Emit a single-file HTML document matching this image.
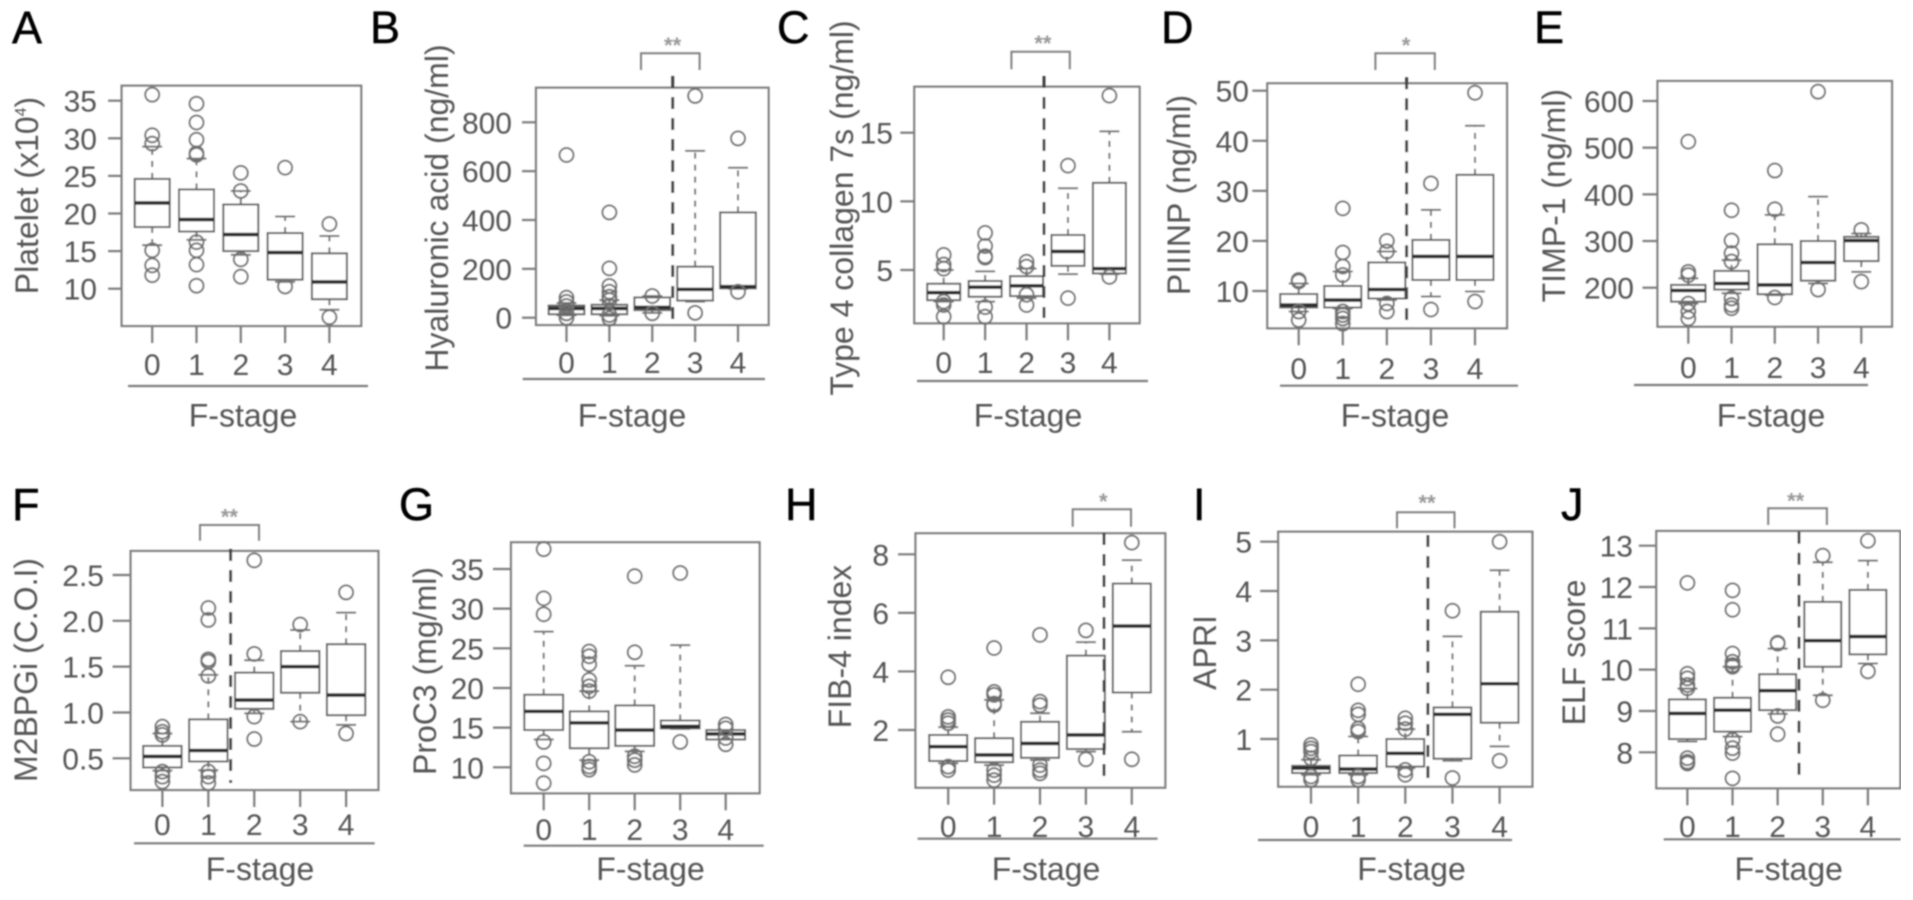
<!DOCTYPE html>
<html lang="en">
<head>
<meta charset="utf-8">
<title>Fibrosis markers by F-stage</title>
<style>
html,body{margin:0;padding:0;background:#fff;width:1913px;height:900px;overflow:hidden}
svg{display:block}
text{font-family:"Liberation Sans",Arial,sans-serif}
</style>
</head>
<body>
<svg id="figure" width="1913" height="900" viewBox="0 0 1913 900" xmlns="http://www.w3.org/2000/svg">
<defs><filter id="soft" x="0" y="0" width="100%" height="100%"><feGaussianBlur stdDeviation="0.8"/></filter></defs>
<g id="root" filter="url(#soft)"></g>
</svg>
<script>
const categories = ['0', '1', '2', '3', '4'];

// A: Platelet
const plateletQ1 = [18.2, 17.6, 15, 11.2, 8.6];
const plateletMedian = [21.4, 19.2, 17.2, 14.8, 10.9];
const plateletQ3 = [24.6, 23.2, 21.2, 17.4, 14.7];
const plateletLow = [15.8, 16.5, 14.5, 10.9, 7.2];
const plateletHigh = [28.9, 27.3, 23, 19.6, 17];
const plateletOutliers = [[35.8, 30.4, 29.3, 15.1, 13.1, 11.8], [34.6, 32.1, 29.8, 28, 27.8, 16.2, 15.1, 13.2, 10.4], [25.4, 23, 13.9, 11.6], [26.1, 10.3], [18.6, 6.2]];
const plateletTicks = ['10', '15', '20', '25', '30', '35'];

// B: Hyaluronic acid
const hyaluronicQ1 = [14, 14, 31, 70, 120];
const hyaluronicMedian = [38, 38, 42, 116, 127];
const hyaluronicQ3 = [50, 53, 83, 209, 431];
const hyaluronicLow = [10, 8, 20, 66, 118];
const hyaluronicHigh = [60, 72, 89, 683, 614];
const hyaluronicOutliers = [[666, 82, 65, 48, 18, 0], [431, 202, 130, 106, 86, 72, 11, -3], [89, 18], [908, 20], [734, 106]];
const hyaluronicTicks = ['0', '200', '400', '600', '800'];

// C: Type 4 collagen 7s
const collagenQ1 = [2.8, 3.05, 3.1, 5.3, 4.75];
const collagenMedian = [3.35, 3.75, 3.85, 6.35, 5.1];
const collagenQ3 = [4, 4.2, 4.55, 7.55, 11.35];
const collagenLow = [2.7, 2.7, 2.95, 4.7, 4.7];
const collagenHigh = [5, 4.9, 5.1, 10.95, 15.1];
const collagenOutliers = [[6.1, 5.4, 5.1, 2.7, 2.45, 1.6], [7.7, 6.75, 6, 5.9, 2.3, 1.6], [5.6, 5.25, 3.2, 2.45], [12.6, 2.95], [17.7, 4.5]];
const collagenTicks = ['5', '10', '15'];

// D: PIIINP
const piiinpQ1 = [6.7, 6.7, 8.5, 12.2, 12.2];
const piiinpMedian = [7.2, 8.2, 10.3, 16.9, 16.9];
const piiinpQ3 = [9.4, 11, 15.7, 20.2, 33.2];
const piiinpLow = [5.9, 6.5, 8.2, 8.9, 9.9];
const piiinpHigh = [11.5, 13.9, 17.9, 26.2, 43];
const piiinpOutliers = [[12.2, 11.9, 5.9, 4.2], [26.5, 17.7, 14.9, 13.2, 5.9, 5.2, 4.5, 3.5], [20, 17.9, 7.5, 5.9], [31.5, 6.3], [49.6, 7.9]];
const piiinpTicks = ['10', '20', '30', '40', '50'];

// E: TIMP-1
const timpQ1 = [170, 196, 186, 215, 257];
const timpMedian = [194, 209, 206, 254, 301];
const timpQ3 = [206, 236, 293, 300, 309];
const timpLow = [166, 188, 184, 209, 234];
const timpHigh = [220, 259, 356, 395, 316];
const timpOutliers = [[513, 234, 227, 166, 149, 134], [366, 301, 274, 256, 177, 163, 156], [451, 368, 179], [620, 196], [324, 213]];
const timpTicks = ['200', '300', '400', '500', '600'];

// F: M2BPGi
const m2bpgiQ1 = [0.4, 0.465, 1.04, 1.215, 0.97];
const m2bpgiMedian = [0.52, 0.585, 1.135, 1.5, 1.19];
const m2bpgiQ3 = [0.635, 0.925, 1.435, 1.67, 1.745];
const m2bpgiLow = [0.365, 0.37, 0.99, 0.9, 0.865];
const m2bpgiHigh = [0.77, 1.41, 1.57, 1.9, 2.09];
const m2bpgiOutliers = [[0.845, 0.79, 0.755, 0.355, 0.3, 0.245], [2.14, 2.01, 1.58, 1.555, 1.4, 0.355, 0.3, 0.23], [2.66, 1.64, 0.955, 0.71], [1.96, 0.9], [2.31, 0.77]];
const m2bpgiTicks = ['0.5', '1.0', '1.5', '2.0', '2.5'];

// G: ProC3
const proc3Q1 = [14.7, 12.4, 12.7, 14.9, 13.5];
const proc3Median = [17.05, 15.6, 14.7, 15.15, 14.2];
const proc3Q3 = [19.15, 17.05, 17.8, 15.9, 14.7];
const proc3Low = [13.5, 10.9, 12, 14.85, 13.5];
const proc3High = [27.1, 19.6, 22.8, 25.4, 14.7];
const proc3Outliers = [[37.5, 31.3, 29.3, 13.2, 10.5, 8], [24.6, 24, 23, 21, 20.2, 19.6, 10.7, 10.1, 9.7], [34.1, 24.5, 11.4, 10.9, 10.3], [34.5, 13.2], [15.4, 14.9, 13.7, 12.9]];
const proc3Ticks = ['10', '15', '20', '25', '30', '35'];

// H: FIB-4 index
const fib4Q1 = [0.94, 0.9, 1.05, 1.35, 3.28];
const fib4Median = [1.43, 1.15, 1.54, 1.83, 5.55];
const fib4Q3 = [1.83, 1.72, 2.28, 4.54, 7];
const fib4Low = [0.86, 0.8, 0.97, 1.26, 1.94];
const fib4High = [2.1, 3.03, 2.57, 5, 7.8];
const fib4Outliers = [[3.8, 2.45, 2.34, 2.23, 0.75, 0.63], [4.8, 3.3, 3.2, 2.9, 2.85, 0.63, 0.46, 0.29], [5.25, 2.97, 2.85, 0.8, 0.63, 0.52], [5.4, 1], [8.4, 1]];
const fib4Ticks = ['2', '4', '6', '8'];

// I: APRI
const apriQ1 = [0.31, 0.31, 0.44, 0.6, 1.33];
const apriMedian = [0.41, 0.39, 0.71, 1.5, 2.12];
const apriQ3 = [0.456, 0.665, 1, 1.64, 3.58];
const apriLow = [0.275, 0.275, 0.41, 0.56, 0.85];
const apriHigh = [0.58, 1.05, 1.2, 3.08, 4.42];
const apriOutliers = [[0.88, 0.81, 0.745, 0.61, 0.24, 0.175], [2.11, 1.58, 1.5, 1.21, 1.15, 0.24, 0.175], [1.42, 1.32, 1.2, 0.375, 0.275], [3.6, 0.21], [5, 0.56]];
const apriTicks = ['1', '2', '3', '4', '5'];

// J: ELF score
const elfQ1 = [8.32, 8.5, 9.02, 10.07, 10.37];
const elfMedian = [8.94, 9.02, 9.49, 10.7, 10.8];
const elfQ3 = [9.28, 9.32, 9.89, 11.64, 11.93];
const elfLow = [8.26, 8.38, 8.93, 9.38, 10.15];
const elfHigh = [9.54, 10.07, 10.51, 12.6, 12.64];
const elfOutliers = [[12.1, 9.9, 9.79, 9.63, 9.55, 7.86, 7.77, 7.73], [11.92, 11.45, 10.39, 10.19, 10.11, 10.07, 8.3, 8.1, 7.98, 7.37], [10.65, 10.63, 8.88, 8.44], [12.76, 9.26], [13.12, 9.96]];
const elfTicks = ['8', '9', '10', '11', '12', '13'];

const panels = [
 {key:'a',letter:'A',lx:12,lby:43,title:'Platelet (x10',sup:'4',end:')',tx:38,ty:195.5,
  q1:plateletQ1,med:plateletMedian,q3:plateletQ3,low:plateletLow,high:plateletHigh,out:plateletOutliers,ticks:plateletTicks,
  l:121.6,r:361.2,t:85.7,b:326,x0:152.2,x4:329.4,bw:35,va:10,ya:288.7,vb:35,yb:100.7,labelBase:375,ux0:128,ux1:368,uy:386,fx:243,fby:426.7,tickR:97,tick:13.5},
 {key:'b',letter:'B',lx:370,lby:43,title:'Hyaluronic acid (ng/ml)',tx:448,ty:208,
  q1:hyaluronicQ1,med:hyaluronicMedian,q3:hyaluronicQ3,low:hyaluronicLow,high:hyaluronicHigh,out:hyaluronicOutliers,ticks:hyaluronicTicks,
  l:536,r:768.6,t:87.7,b:325,x0:566.5,x4:738,bw:35.7,va:0,ya:317.7,vb:800,yb:122.3,labelBase:373,ux0:522.7,ux1:765,uy:379,fx:632,fby:426.7,tickR:512,tick:14,
  vx:672.7,vt:76,vb2:320,bx0:641,bx1:699.6,bt:53.3,bb:70,stars:'**',sx:672.6,sy:40},
 {key:'c',letter:'C',lx:777,lby:43,title:'Type 4 collagen 7s (ng/ml)',tx:853,ty:208,
  q1:collagenQ1,med:collagenMedian,q3:collagenQ3,low:collagenLow,high:collagenHigh,out:collagenOutliers,ticks:collagenTicks,
  l:914.3,r:1139.6,t:86.7,b:323.3,x0:943.7,x4:1109.4,bw:33,va:5,ya:270,vb:15,yb:132.7,labelBase:373,ux0:917,ux1:1148,uy:381,fx:1028,fby:426.7,tickR:893,tick:14,
  vx:1044,vt:76,vb2:318,bx0:1011.4,bx1:1069.8,bt:51.7,bb:69.3,stars:'**',sx:1042.9,sy:38},
 {key:'d',letter:'D',lx:1161,lby:43,title:'PIIINP (ng/ml)',tx:1190,ty:195,
  q1:piiinpQ1,med:piiinpMedian,q3:piiinpQ3,low:piiinpLow,high:piiinpHigh,out:piiinpOutliers,ticks:piiinpTicks,
  l:1267.3,r:1507,t:83.3,b:328.3,x0:1298.7,x4:1475,bw:37,va:10,ya:291,vb:50,yb:90.7,labelBase:379,ux0:1280,ux1:1518,uy:385.7,fx:1395,fby:426.7,tickR:1249,tick:15,
  vx:1406.6,vt:77.3,vb2:320,bx0:1375.4,bx1:1434.8,bt:53.3,bb:70,stars:'*',sx:1406,sy:40},
 {key:'e',letter:'E',lx:1534,lby:43,title:'TIMP-1 (ng/ml)',tx:1565,ty:195.7,
  q1:timpQ1,med:timpMedian,q3:timpQ3,low:timpLow,high:timpHigh,out:timpOutliers,ticks:timpTicks,
  l:1657.5,r:1892,t:81,b:326.7,x0:1688.3,x4:1861.3,bw:34.5,va:200,ya:287.7,vb:600,yb:101,labelBase:378,ux0:1634,ux1:1868,uy:385,fx:1771,fby:426.7,tickR:1634,tick:15},
 {key:'f',letter:'F',lx:12,lby:520,title:'M2BPGi (C.O.I)',tx:37,ty:670,
  q1:m2bpgiQ1,med:m2bpgiMedian,q3:m2bpgiQ3,low:m2bpgiLow,high:m2bpgiHigh,out:m2bpgiOutliers,ticks:m2bpgiTicks,
  l:130.6,r:378.4,t:551,b:790,x0:162.4,x4:346.1,bw:38.4,va:0.5,ya:758.3,vb:2.5,yb:575,labelBase:835,ux0:134,ux1:374.7,uy:843.3,fx:260,fby:880,tickR:104,tick:18,
  vx:230.6,vt:549,vb2:783,bx0:200,bx1:259,bt:525,bb:540.7,stars:'**',sx:229.4,sy:511.7},
 {key:'g',letter:'G',lx:399,lby:520,title:'ProC3 (mg/ml)',tx:436,ty:671,
  q1:proc3Q1,med:proc3Median,q3:proc3Q3,low:proc3Low,high:proc3High,out:proc3Outliers,ticks:proc3Ticks,
  l:511,r:759.6,t:542.3,b:793.3,x0:543.7,x4:725.7,bw:38.8,va:10,ya:767.3,vb:35,yb:569,labelBase:840,ux0:523.7,ux1:763.7,uy:845.7,fx:650.5,fby:880,tickR:484,tick:18},
 {key:'h',letter:'H',lx:785,lby:520,title:'FIB-4 index',tx:851,ty:646.5,
  q1:fib4Q1,med:fib4Median,q3:fib4Q3,low:fib4Low,high:fib4High,out:fib4Outliers,ticks:fib4Ticks,
  l:915.5,r:1165.3,t:533.3,b:787.7,x0:948.2,x4:1131.8,bw:38,va:2,ya:730,vb:8,yb:554.3,labelBase:837,ux0:917.6,ux1:1157.6,uy:838.7,fx:1046,fby:880,tickR:889,tick:17.5,
  vx:1104,vt:533,vb2:776.7,bx0:1072.7,bx1:1131,bt:509.3,bb:526.7,stars:'*',sx:1103.3,sy:496},
 {key:'i',letter:'I',lx:1193,lby:520,title:'APRI',tx:1216,ty:652.5,
  q1:apriQ1,med:apriMedian,q3:apriQ3,low:apriLow,high:apriHigh,out:apriOutliers,ticks:apriTicks,
  l:1278.2,r:1532.4,t:531.7,b:786.7,x0:1311,x4:1499.6,bw:37.7,va:1,ya:739,vb:5,yb:541.7,labelBase:837,ux0:1258,ux1:1512,uy:840,fx:1411.5,fby:880,tickR:1252,tick:18,
  vx:1427.9,vt:535,vb2:780,bx0:1397,bx1:1454.5,bt:512.3,bb:528.3,stars:'**',sx:1427,sy:497.3},
 {key:'j',letter:'J',lx:1561,lby:520,title:'ELF score',tx:1585,ty:652.5,
  q1:elfQ1,med:elfMedian,q3:elfQ3,low:elfLow,high:elfHigh,out:elfOutliers,ticks:elfTicks,
  l:1656.3,r:1900.3,t:531,b:788.3,x0:1687.4,x4:1867.9,bw:36.9,va:8,ya:752.3,vb:13,yb:545.7,labelBase:837,ux0:1663.7,ux1:1900.7,uy:839.3,fx:1788.7,fby:880,tickR:1633,tick:17.5,
  vx:1799,vt:531.7,vb2:775,bx0:1768.2,bx1:1826.9,bt:508.3,bb:525,stars:'**',sx:1795.7,sy:495.3}
];

const NS = 'http://www.w3.org/2000/svg';
const root = document.getElementById('root');
function shape(parent, tag, attrs, text) {
  const node = document.createElementNS(NS, tag);
  for (const k in attrs) node.setAttribute(k, attrs[k]);
  if (text !== undefined) node.textContent = text;
  parent.appendChild(node);
  return node;
}
const TEXT = '#555555', AXIS = '#7c7c7c', BOX = '#606060', MED = '#2c2c2c', CIRC = '#707070';

panels.forEach(function (p) {
  const y = function (v) { return p.ya + (v - p.va) * (p.yb - p.ya) / (p.vb - p.va); };
  const x = function (i) { return p.x0 + i * (p.x4 - p.x0) / (categories.length - 1); };

  const g = shape(root, 'g', {});
  
  

  const letter = shape(g, 'text', {x: p.lx, y: p.lby, 'font-size': 45, fill: '#000', stroke: '#000', 'stroke-width': 0.5}, p.letter);
  
  

  const title = shape(g, 'text', {x: p.tx, y: p.ty, 'font-size': 32, fill: TEXT, 'text-anchor': 'middle',
    transform: 'rotate(-90 ' + p.tx + ' ' + p.ty + ')'});
  
  
  shape(title, 'tspan', {}, p.title);
  if (p.sup) {
    shape(title, 'tspan', {'font-size': 16, dy: -12}, p.sup);
    shape(title, 'tspan', {dy: 12}, p.end);
  }

  const frame = shape(g, 'rect', {x: p.l, y: p.t, width: p.r - p.l, height: p.b - p.t, fill: '#fff', stroke: AXIS, 'stroke-width': 2.2});
  
  

  p.ticks.forEach(function (label) {
    const v = Number(label);
    const tl = shape(g, 'line', {x1: p.l - p.tick, x2: p.l, y1: y(v), y2: y(v), stroke: AXIS, 'stroke-width': 2.2});
    
    
    const tt = shape(g, 'text', {x: p.tickR, y: y(v) + 11, 'font-size': 30, fill: TEXT, 'text-anchor': 'end'}, label);
    
    
  });

  categories.forEach(function (c, i) {
    const cx = x(i);
    const xt = shape(g, 'line', {x1: cx, x2: cx, y1: p.b, y2: p.b + 17, stroke: AXIS, 'stroke-width': 2.2});
    
    
    const xl = shape(g, 'text', {x: cx, y: p.labelBase, 'font-size': 30, fill: TEXT, 'text-anchor': 'middle'}, c);
    
    

    const wh = shape(g, 'line', {x1: cx, x2: cx, y1: y(p.q3[i]), y2: y(p.high[i]), stroke: '#707070', 'stroke-width': 2, 'stroke-dasharray': '6 6'});
    
    
    const wl = shape(g, 'line', {x1: cx, x2: cx, y1: y(p.q1[i]), y2: y(p.low[i]), stroke: '#707070', 'stroke-width': 2, 'stroke-dasharray': '6 6'});
    
    
    const ch = shape(g, 'line', {x1: cx - 10, x2: cx + 10, y1: y(p.high[i]), y2: y(p.high[i]), stroke: '#707070', 'stroke-width': 2});
    
    
    const cl = shape(g, 'line', {x1: cx - 10, x2: cx + 10, y1: y(p.low[i]), y2: y(p.low[i]), stroke: '#707070', 'stroke-width': 2});
    
    

    const box = shape(g, 'rect', {x: cx - p.bw / 2, y: y(p.q3[i]), width: p.bw, height: y(p.q1[i]) - y(p.q3[i]), fill: 'none', stroke: BOX, 'stroke-width': 2});
    
    
    const med = shape(g, 'line', {x1: cx - p.bw / 2, x2: cx + p.bw / 2, y1: y(p.med[i]), y2: y(p.med[i]), stroke: MED, 'stroke-width': 3.6});
    
    

    p.out[i].forEach(function (v) {
      const dot = shape(g, 'circle', {cx: cx, cy: y(v), r: 7, fill: 'none', stroke: CIRC, 'stroke-width': 2});
      
      
    });
  });

  const under = shape(g, 'line', {x1: p.ux0, x2: p.ux1, y1: p.uy, y2: p.uy, stroke: AXIS, 'stroke-width': 2.2});
  
  
  const xt2 = shape(g, 'text', {x: p.fx, y: p.fby, 'font-size': 32, fill: TEXT, 'text-anchor': 'middle'}, 'F-stage');
  
  

  if (p.vx) {
    const cut = shape(g, 'line', {x1: p.vx, x2: p.vx, y1: p.vt, y2: p.vb2, stroke: '#404040', 'stroke-width': 3, 'stroke-dasharray': '12 9'});
    
    
    const br = shape(g, 'polyline', {points: p.bx0 + ',' + p.bb + ' ' + p.bx0 + ',' + p.bt + ' ' + p.bx1 + ',' + p.bt + ' ' + p.bx1 + ',' + p.bb, fill: 'none', stroke: '#808080', 'stroke-width': 2});
    
    
    const st = shape(g, 'text', {x: p.sx, y: p.sy + 13, 'font-size': 22, 'font-weight': 'bold', fill: '#999', 'text-anchor': 'middle'}, p.stars);
    
    
  }
});
</script>
</body>
</html>
